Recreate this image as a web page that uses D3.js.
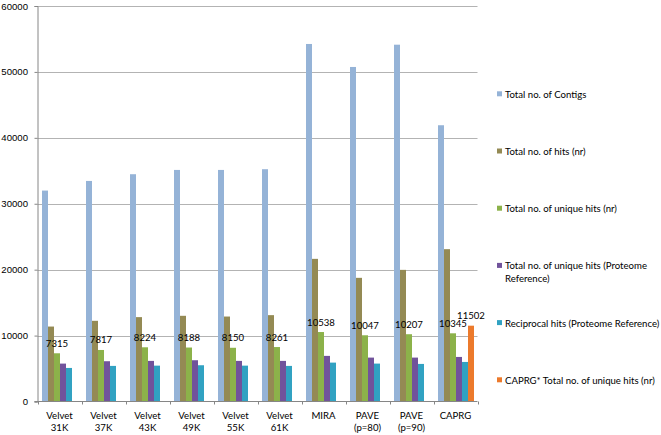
<!DOCTYPE html>
<html>
<head>
<meta charset="utf-8">
<script src="https://cdn.jsdelivr.net/npm/d3@7"></script>
<style>
    body { margin: 0; background: #fff; }
    svg { display: block; font-family: Lato, "Open Sans", sans-serif; }
</style>
</head>
<body>
<svg id="chart" width="661" height="435"></svg>
<script>
const categories = [
    ['Velvet', '31K'], ['Velvet', '37K'], ['Velvet', '43K'], ['Velvet', '49K'], ['Velvet', '55K'],
    ['Velvet', '61K'], ['MIRA'], ['PAVE', '(p=80)'], ['PAVE', '(p=90)'], ['CAPRG']
];
const seriesNames = [
    'Total no. of Contigs',
    'Total no. of hits (nr)',
    'Total no. of unique hits (nr)',
    'Total no. of unique hits (Proteome Reference)',
    'Reciprocal hits (Proteome Reference)',
    'CAPRG* Total no. of unique hits (nr)'
];
const contigs = [32000, 33460, 34480, 35130, 35130, 35240, 54240, 50750, 54130, 41910];
const hitsNr = [11370, 12240, 12800, 13000, 12890, 13100, 21640, 18760, 19970, 23110];
const uniqueNr = [7315, 7817, 8224, 8188, 8150, 8261, 10538, 10047, 10207, 10345];
const uniqueProteome = [5750, 6110, 6160, 6260, 6160, 6160, 6920, 6660, 6660, 6760];
const reciprocal = [5090, 5400, 5440, 5500, 5440, 5400, 5900, 5750, 5700, 6000];
const caprgUnique = [null, null, null, null, null, null, null, null, null, 11502];
const yTicks = [0, 10000, 20000, 30000, 40000, 50000, 60000];

const seriesValues = [contigs, hitsNr, uniqueNr, uniqueProteome, reciprocal, caprgUnique];
const colors = ['#95b3d7', '#948a54', '#8cb24a', '#71539b', '#31a2c2', '#ec7a2c'];
const labelled = [false, false, true, false, false, true];
// lines of the legend text, the long proteome entry wraps
const legendLines = [
    ['Total no. of Contigs'],
    ['Total no. of hits (nr)'],
    ['Total no. of unique hits (nr)'],
    ['Total no. of unique hits (Proteome', 'Reference)'],
    ['Reciprocal hits (Proteome Reference)'],
    ['CAPRG* Total no. of unique hits (nr)']
];

const fontSize = 9.6;
const svg = d3.select('#chart');
const plot = { left: 37.5, right: 477.5, top: 6, bottom: 401.5 };

let x0 = d3.scaleBand()
    .domain(d3.range(categories.length))
    .range([plot.left, plot.right]);
let x1 = d3.scaleBand()
    .domain(d3.range(seriesNames.length))
    .range([4.5, x0.bandwidth() - 3.5]);
let y = d3.scaleLinear()
    .domain([0, 60000])
    .range([plot.bottom, plot.top]);

// gridlines
svg.append('g')
    .selectAll('line')
    .data(yTicks.filter(t => t > 0))
    .join('line')
    .attr('x1', plot.left)
    .attr('x2', plot.right)
    .attr('y1', d => Math.round(y(d)) + 0.5)
    .attr('y2', d => Math.round(y(d)) + 0.5)
    .attr('stroke', '#b3b3b3')
    .attr('stroke-width', 1);

// bars
seriesValues.forEach((vals, s) => {
    svg.append('g')
        .selectAll('rect')
        .data(vals.map((v, i) => ({ i, v })).filter(d => d.v != null))
        .join('rect')
        .attr('x', d => x0(d.i) + x1(s))
        .attr('width', x1.bandwidth())
        .attr('y', d => y(d.v))
        .attr('height', d => y(0) - y(d.v))
        .attr('fill', colors[s]);
});

// data labels
seriesValues.forEach((vals, s) => {
    if (!labelled[s]) return;
    svg.append('g')
        .selectAll('text')
        .data(vals.map((v, i) => ({ i, v })).filter(d => d.v != null))
        .join('text')
        .attr('x', d => x0(d.i) + x1(s) + x1.bandwidth() / 2)
        .attr('y', d => y(d.v) - 6.5)
        .attr('text-anchor', 'middle')
        .attr('font-size', fontSize)
        .attr('fill', '#000')
        .text(d => d.v);
});

// y axis
let yAxis = svg.append('g')
    .attr('transform', `translate(${plot.left},0)`)
    .call(d3.axisLeft(y).tickValues(yTicks).tickSize(3).tickPadding(6.5).tickFormat(d3.format('d')));
yAxis.select('.domain').attr('stroke', '#868686');
yAxis.selectAll('.tick line').attr('stroke', '#868686');
yAxis.selectAll('text').attr('font-size', fontSize).attr('fill', '#000').attr('font-family', null);

// x axis, ticks on the category boundaries
let xg = svg.append('g');
xg.append('line')
    .attr('x1', plot.left - 3).attr('x2', plot.right)
    .attr('y1', plot.bottom).attr('y2', plot.bottom)
    .attr('stroke', '#868686');
xg.selectAll('.bound')
    .data(d3.range(categories.length + 1))
    .join('line')
    .attr('class', 'bound')
    .attr('x1', d => Math.round(plot.left + d * x0.step()) + 0.5)
    .attr('x2', d => Math.round(plot.left + d * x0.step()) + 0.5)
    .attr('y1', plot.bottom)
    .attr('y2', plot.bottom + 3)
    .attr('stroke', '#868686');
xg.selectAll('.cat')
    .data(categories)
    .join('text')
    .attr('class', 'cat')
    .attr('x', (d, i) => x0(i) + x0.bandwidth() / 2)
    .attr('y', 418.5)
    .attr('text-anchor', 'middle')
    .attr('font-size', fontSize)
    .selectAll('tspan')
    .data(d => d)
    .join('tspan')
    .attr('x', function () { return d3.select(this.parentNode).attr('x'); })
    .attr('dy', (d, j) => j === 0 ? 0 : 12.3)
    .text(d => d);

// legend
let legend = svg.append('g')
    .selectAll('g')
    .data(legendLines)
    .join('g')
    .attr('transform', (d, i) => `translate(497,${94.3 + i * 57.2})`);
legend.append('rect')
    .attr('x', 0).attr('y', -3)
    .attr('width', 5).attr('height', 5)
    .attr('fill', (d, i) => colors[i]);
legend.append('text')
    .attr('x', 8)
    .attr('y', 3.5)
    .attr('font-size', fontSize)
    .selectAll('tspan')
    .data(d => d)
    .join('tspan')
    .attr('x', 8)
    .attr('dy', (d, j) => j === 0 ? 0 : 12.3)
    .text(d => d);
</script>
</body>
</html>
